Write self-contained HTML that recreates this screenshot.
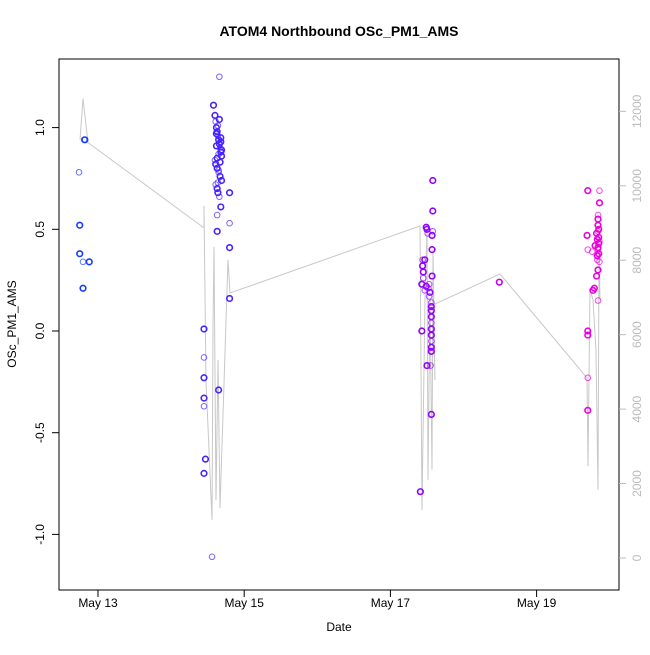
<!DOCTYPE html>
<html><head><meta charset="utf-8"><style>
body{margin:0;background:#fff}
svg{font-family:"Liberation Sans",sans-serif}
</style></head><body>
<svg id="chart" width="650" height="650">
<text x="339" y="36" text-anchor="middle" font-weight="bold" font-size="14">ATOM4 Northbound OSc_PM1_AMS</text>
<rect x="59" y="59" width="560" height="531" fill="none" stroke="#000"/>
<text x="339" y="631" text-anchor="middle" font-size="12">Date</text>
<text transform="translate(16,324) rotate(-90)" text-anchor="middle" font-size="12">OSc_PM1_AMS</text>
<g id="lineG"></g><g id="ptsG"></g><g id="axG"></g>
</svg>
<script>
const xTickLabels=["May 13","May 15","May 17","May 19"];
const xTickDays=[0,2,4,6];
const yTicks=[-1.0,-0.5,0.0,0.5,1.0];
const yTickLabels=["-1.0","-0.5","0.0","0.5","1.0"];
const y2Ticks=[0,2000,4000,6000,8000,10000,12000];
const ptTimes=[-0.26,-0.25,-0.25,-0.205,-0.12,-0.205,-0.19,-0.18,
1.45,1.45,1.45,1.45,1.45,1.47,1.45,1.56,1.65,1.80,1.80,1.80,1.80,1.66,1.58,1.63,1.63,1.68,
1.60,1.61,1.62,1.63,1.64,1.65,1.66,1.67,1.68,1.69,1.60,1.61,1.63,1.65,1.67,1.69,1.61,1.63,1.64,1.66,1.68,1.62,1.64,1.66,1.68,1.65,1.63,1.67,1.65,1.62,1.69,1.64,
4.41,4.43,4.44,4.44,4.45,4.45,4.43,4.50,4.51,4.58,4.58,4.58,4.57,4.57,4.53,4.50,4.56,4.47,4.49,4.54,4.56,4.56,4.56,4.56,4.56,4.56,4.56,4.56,4.56,4.55,4.57,4.49,4.53,4.56,4.47,4.52,
5.49,
6.70,6.86,6.86,6.69,6.70,6.70,6.70,6.70,6.70,6.77,6.84,6.84,6.84,6.84,6.85,6.85,6.84,6.83,6.82,6.86,6.84,6.85,6.83,6.79,6.80,6.84,6.85,6.83,6.76,6.82,6.84,6.86];
const ptValues=[0.78,0.52,0.38,0.34,0.34,0.21,0.94,0.94,
0.01,-0.13,-0.23,-0.33,-0.37,-0.63,-0.70,-1.11,-0.29,0.68,0.53,0.41,0.16,1.25,1.11,0.49,0.57,0.61,
1.06,1.03,1.00,0.98,0.96,0.94,0.92,0.90,0.88,0.86,0.84,0.82,0.80,0.78,0.76,0.74,0.72,0.70,0.68,0.66,0.93,0.97,1.01,1.04,0.95,0.87,0.85,0.83,0.79,0.91,0.89,0.73,
-0.79,0.0,0.35,0.32,0.29,0.26,0.23,0.50,0.48,0.74,0.59,0.49,0.40,0.27,0.17,-0.17,-0.41,0.20,0.22,0.19,0.14,0.10,0.07,0.04,0.01,-0.02,-0.05,-0.08,-0.10,-0.17,0.47,0.51,0.23,0.12,0.35,0.21,
0.24,
0.69,0.69,0.63,0.47,0.40,0.0,-0.02,-0.23,-0.39,0.20,0.15,0.55,0.52,0.49,0.46,0.43,0.40,0.37,0.48,0.44,0.41,0.38,0.35,0.21,0.42,0.57,0.50,0.45,0.39,0.27,0.30,0.34];
const lineTimes=[-0.246,-0.205,-0.137,1.450,1.450,1.477,1.560,1.573,1.587,1.614,1.642,1.669,1.778,1.806,4.405,4.432,4.473,4.501,4.514,4.542,4.569,4.583,4.610,4.583,5.499,6.689,6.703,6.730,6.771,6.812,6.840,6.854,6.867];
const lineValues=[11240,12340,11160,8870,9460,4780,1020,6130,8360,1560,5320,1340,8010,7120,8920,1290,6940,8820,2100,6940,2370,8280,4780,6800,7630,4840,2470,7200,6940,5590,1830,8280,6940];
const NS="http://www.w3.org/2000/svg";
const xS=t=>98+t*73.1, yS=v=>331-v*203.4, y2S=v=>558-v*0.03722;
function mk(tag,attrs,parent){const e=document.createElementNS(NS,tag);for(const k in attrs)e.setAttribute(k,attrs[k]);parent.appendChild(e);return e;}
const ax=document.getElementById('axG');
mk('line',{x1:xS(xTickDays[0]),x2:xS(xTickDays[xTickDays.length-1]),y1:590,y2:590,stroke:'#000'},ax);
xTickDays.forEach((d,i)=>{
 const l=mk('line',{x1:xS(d),x2:xS(d),y1:590,y2:597,stroke:'#000'},ax);
 
 
 const t=mk('text',{x:xS(d),y:607,'text-anchor':'middle','font-size':12},ax);t.textContent=xTickLabels[i];
 
 
});
yTicks.forEach((v,i)=>{
 mk('line',{x1:52,x2:59,y1:yS(v),y2:yS(v),stroke:'#000'},ax);
 const t=mk('text',{transform:`translate(44,${yS(v)}) rotate(-90)`,'text-anchor':'middle','font-size':12},ax);t.textContent=yTickLabels[i];
 
 
});
y2Ticks.forEach(v=>{
 mk('line',{x1:619,x2:626,y1:y2S(v),y2:y2S(v),stroke:'#bbb'},ax);
 const t=mk('text',{transform:`translate(641,${y2S(v)}) rotate(-90)`,'text-anchor':'middle','font-size':12,fill:'#bbb'},ax);t.textContent=v;
 
 
});
const lg=document.getElementById('lineG');
const pl=mk('polyline',{points:lineTimes.map((t,i)=>xS(t)+','+y2S(lineValues[i])).join(' '),fill:'none',stroke:'#c8c8c8','stroke-width':1},lg);


const pg=document.getElementById('ptsG');
function col(t){const f=Math.max(0,Math.min(1,(t+0.3)/7.2));
 let r,g,b;
 if(f<0.65){const k=f/0.65;r=20+k*120;g=60*(1-k);b=255;}
 else{const k=(f-0.65)/0.35;r=140+k*100;g=0;b=255-k*35;}
 return `rgb(${Math.round(r)},${Math.round(g)},${Math.round(b)})`;}
ptTimes.forEach((t,i)=>{
 const c=mk('circle',{cx:xS(t),cy:yS(ptValues[i]),r:2.8,fill:'none',stroke:col(t),'stroke-width':i%3==0?1:1.6,'stroke-opacity':i%3==0?0.7:1},pg);
 
 
});
</script>
</body></html>
